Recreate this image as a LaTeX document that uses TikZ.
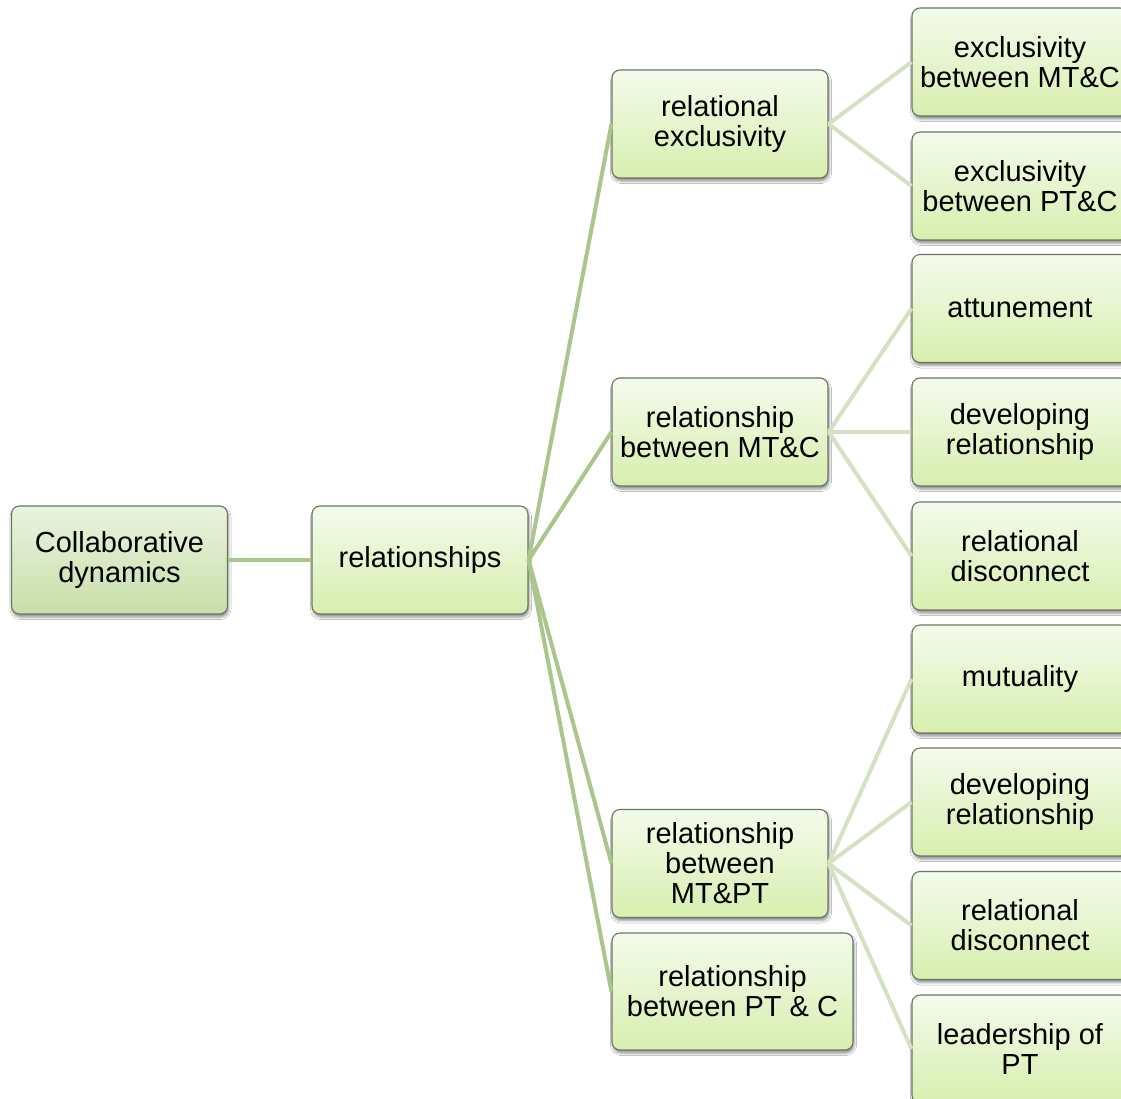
\documentclass[tikz,border=0pt]{standalone}
\usepackage{fontspec}
\setmainfont{Liberation Sans}
\usetikzlibrary{shadows.blur}

\definecolor{boxline}{HTML}{6C7563}
\definecolor{boxtop}{HTML}{F4FBEC}
\definecolor{boxbot}{HTML}{D7EFAE}
\definecolor{roottop}{HTML}{EAF3DE}
\definecolor{rootbot}{HTML}{C8DFA9}
\definecolor{linkmain}{HTML}{A9C78A}
\definecolor{linksub}{HTML}{D3E2C0}

\tikzset{
  box/.style={draw=boxline, line width=1.1pt, rounded corners=8pt,
    top color=boxtop, bottom color=boxbot,
    minimum width=216pt, minimum height=108pt, inner sep=2pt,
    align=center, text=black, font=\fontsize{29}{30}\selectfont,
    blur shadow={shadow xshift=1pt, shadow yshift=-3pt,
      shadow blur radius=2.5pt, shadow opacity=45}},
  rootbox/.style={box, top color=roottop, bottom color=rootbot},
  wide/.style={minimum width=241pt, minimum height=117pt},
  mainlink/.style={draw=linkmain, line width=4pt},
  sublink/.style={draw=linksub, line width=4pt},
}

\begin{document}
\begin{tikzpicture}[x=1pt, y=-1pt]
  \useasboundingbox (0,0) rectangle (1121,1099);
  \clip (0,0) rectangle (1121,1099);
  \fill[white] (0,0) rectangle (1121,1099);

  % root and first level
  \node[rootbox] (root) at (119.5,560) {Collaborative\\dynamics};
  \node[box] (rel) at (420,560) {relationships};

  % second level
  \node[box] (excl) at (720,124) {relational\\exclusivity};
  \node[box] (mtc) at (720,432) {relationship\\between MT\&C};
  \node[box] (mtpt) at (720,863.5) {relationship\\between\\MT\&PT};
  \node[box, wide] (ptc) at (732.5,991.5) {relationship\\between PT \& C};

  % third level
  \node[box] (e1) at (1020,62) {exclusivity\\between MT\&C};
  \node[box] (e2) at (1020,186) {exclusivity\\between PT\&C};
  \node[box] (c1) at (1020,308.5) {attunement};
  \node[box] (c2) at (1020,432) {developing\\relationship};
  \node[box] (c3) at (1020,556) {relational\\disconnect};
  \node[box] (p1) at (1020,679) {mutuality};
  \node[box] (p2) at (1020,802) {developing\\relationship};
  \node[box] (p3) at (1020,925.5) {relational\\disconnect};
  \node[box] (p4) at (1020,1049) {leadership of\\PT};

  % connectors
  \draw[mainlink] (root.east) -- (rel.west);
  \foreach \t in {excl,mtc,mtpt,ptc}
    \draw[mainlink] (rel.east) -- (\t.west);
  \foreach \t in {e1,e2}
    \draw[sublink] (excl.east) -- (\t.west);
  \foreach \t in {c1,c2,c3}
    \draw[sublink] (mtc.east) -- (\t.west);
  \foreach \t in {p1,p2,p3,p4}
    \draw[sublink] (mtpt.east) -- (\t.west);
\end{tikzpicture}
\end{document}
